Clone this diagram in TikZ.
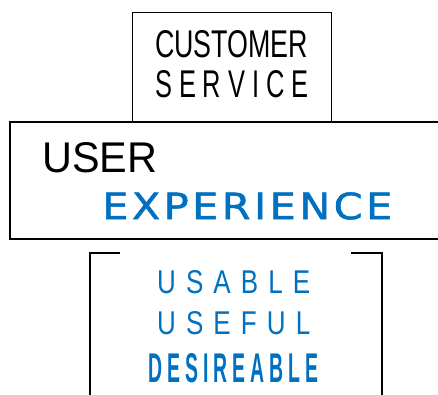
\documentclass[tikz,border=0pt]{standalone}
\usepackage{fontspec}
\usepackage{graphicx}
\setmainfont{Liberation Sans}
\newfontfamily\narrowfont{Liberation Sans}[FakeStretch=0.7]
\newfontfamily\midfont{Liberation Sans}[FakeStretch=0.8]
\newfontfamily\tallfont{Liberation Sans}[FakeStretch=0.55]
\newfontfamily\comicfont{DejaVu Sans}[FakeBold=1.2]
\usetikzlibrary{positioning}
\definecolor{uxblue}{HTML}{0070C0}
\newcommand{\fitword}[3]{\resizebox{#1}{#2}{#3}}

\begin{document}
\begin{tikzpicture}[x=1pt,y=-1pt,
    box/.style={draw,inner sep=0pt,anchor=north west},
    word/.style={inner sep=0pt,anchor=north west}]
    \useasboundingbox (0,0) rectangle (438,394);

    % boxes
    \node[box,line width=1.2pt,minimum width=199pt,minimum height=115pt] (service box) at (132,12) {};
    \node[box,fill=white,line width=1.6pt,minimum width=440pt,minimum height=117pt] (ux box) at (9,121) {};

    % open bracket at the bottom
    \coordinate (bl) at (120,253);
    \coordinate (br) at (351,253);
    \draw[line width=1.5pt] (bl) -| (90,400);
    \draw[line width=1.5pt] (br) -| (382,400);

    % texts
    \node[word] (customer) at (155,30) {\fitword{153pt}{27pt}{\narrowfont CUSTOMER}};
    \node[word] (service) at (155,70) {\fitword{153pt}{27pt}{\narrowfont
        S\kern.19em E\kern.19em R\kern.19em V\kern.19em I\kern.19em C\kern.19em E}};
    \node[word] (user) at (42,142) {\fitword{115pt}{30pt}{USER}};
    \node[word,text=uxblue] (experience) at (102,192) {\fitword{290pt}{27pt}{\comicfont
        E\kern.08em X\kern.08em P\kern.08em E\kern.08em R\kern.08em I\kern.08em E\kern.08em N\kern.08em C\kern.08em E}};
    \node[word,text=uxblue] (usable) at (157,270) {\fitword{153pt}{23pt}{\midfont
        U\kern.31em S\kern.31em A\kern.31em B\kern.31em L\kern.31em E}};
    \node[word,text=uxblue] (useful) at (157,311) {\fitword{153pt}{23pt}{\midfont
        U\kern.31em S\kern.31em E\kern.31em F\kern.31em U\kern.31em L}};
    \node[word,text=uxblue] (desireable) at (148,353) {\fitword{170pt}{29pt}{\tallfont\bfseries
        D\kern.14em E\kern.14em S\kern.14em I\kern.14em R\kern.14em E\kern.14em A\kern.14em B\kern.14em L\kern.14em E}};
\end{tikzpicture}
\end{document}
